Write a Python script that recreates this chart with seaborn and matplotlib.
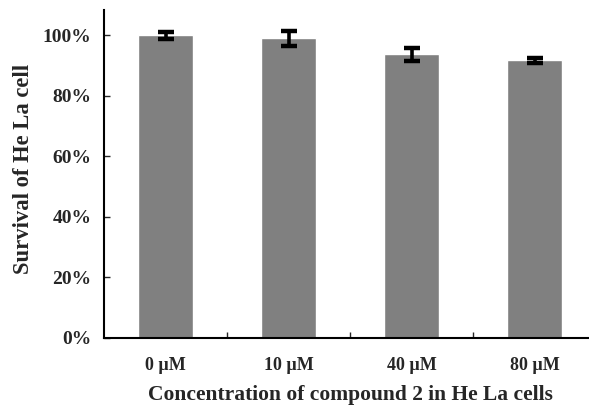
import matplotlib
matplotlib.use("Agg")
import matplotlib.pyplot as plt
import seaborn as sns
import pandas as pd
import numpy as np
from matplotlib.ticker import FuncFormatter

categories = ["0 µM", "10 µM", "40 µM", "80 µM"]
survival = [1.000, 0.990, 0.937, 0.918]
errors = [0.011, 0.026, 0.021, 0.008]

sns.set_style("ticks")
plt.rcParams['font.family'] = ['Liberation Serif', 'DejaVu Serif']
plt.rcParams['font.weight'] = 'bold'

df = pd.DataFrame({"conc": categories, "surv": survival})

fig = plt.figure(figsize=(5.89, 4.07), dpi=100)
ax = fig.add_axes([104/589, (407-338)/407, 492/589, 328/407])

sns.barplot(data=df, x="conc", y="surv", color="#808080", saturation=1,
            width=0.44, ax=ax, errorbar=None)
ax.errorbar(np.arange(len(categories)), survival, yerr=errors, fmt="none",
            ecolor="black", elinewidth=2.6, capsize=5.5, capthick=3.2)

ax.set_ylim(0, 1.084)
ax.set_xlim(-0.5, 3.5)
ax.set_yticks([0, 0.2, 0.4, 0.6, 0.8, 1.0])
ax.yaxis.set_major_formatter(FuncFormatter(lambda v, p: f"{v*100:.0f}%"))
ax.set_xticks([0.5, 1.5, 2.5], minor=True)
ax.tick_params(axis="x", which="major", length=0, pad=14, labelsize=13)
ax.tick_params(axis="x", which="minor", direction="in", length=4, width=1)
ax.tick_params(axis="y", direction="in", length=4, width=1, labelsize=14, pad=9)
for lbl in ax.get_xticklabels() + ax.get_yticklabels():
    lbl.set_fontweight("bold")

ax.set_xlabel("Concentration of compound 2 in He La cells", fontsize=15.5,
              fontweight="bold", labelpad=7.5)
ax.set_ylabel("Survival of He La cell", fontsize=16.3, fontweight="bold",
              labelpad=8)
ax.yaxis.set_label_coords(-0.143, 0.515)

sns.despine(ax=ax, top=True, right=True)
for s in ["left", "bottom"]:
    ax.spines[s].set_linewidth(1.5)
    ax.spines[s].set_color("black")

fig.savefig("out.png", dpi=100)
